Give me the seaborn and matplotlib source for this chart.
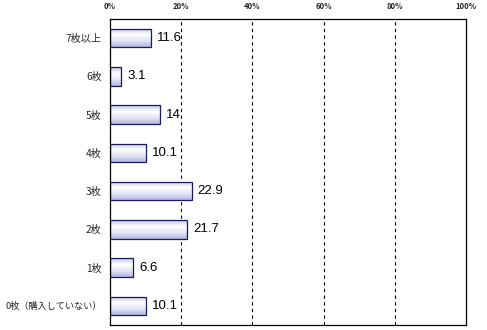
import numpy as np
import pandas as pd
import matplotlib
matplotlib.use("Agg")
import matplotlib.pyplot as plt
import seaborn as sns
from matplotlib.colors import LinearSegmentedColormap

categories = ["7枚以上", "6枚", "5枚", "4枚", "3枚", "2枚", "1枚", "0枚（購入していない）"]
values = [11.6, 3.1, 14, 10.1, 22.9, 21.7, 6.6, 10.1]
value_labels = ["11.6", "3.1", "14", "10.1", "22.9", "21.7", "6.6", "10.1"]
tick_values = [0, 20, 40, 60, 80, 100]
tick_labels = ["0%", "20%", "40%", "60%", "80%", "100%"]

sns.set_theme(style="white")
plt.rcParams['font.family'] = ['Noto Sans CJK JP', 'DejaVu Sans']

df = pd.DataFrame({"cat": categories, "val": values})

fig = plt.figure(figsize=(4.87, 3.30), dpi=100)
ax = fig.add_axes([110/487, 5/330, 356/487, 306/330])

sns.barplot(data=df, x="val", y="cat", orient="h", ax=ax, width=0.49,
            color="white", edgecolor="#1a1a5a", linewidth=0.9, saturation=1)

cmap = LinearSegmentedColormap.from_list("g", ["#c4c4ec", "#ffffff", "#e4e4f6", "#b4b4e4"])
grad = np.linspace(0, 1, 64).reshape(-1, 1)
for p in ax.patches:
    x0, y0 = p.get_x(), p.get_y()
    w, h = p.get_width(), p.get_height()
    im = ax.imshow(grad, cmap=cmap, aspect="auto", extent=[x0, x0 + w, y0 + h, y0],
                   origin="upper", zorder=p.get_zorder() + 0.1)
    im.set_clip_path(p)
    p.set_facecolor("none")
    p.set_zorder(p.get_zorder() + 0.2)

for i, (v, lab) in enumerate(zip(values, value_labels)):
    ax.text(v + 1.7, i, lab, va="center", ha="left", fontsize=9.5, color="black",
            family=['Liberation Sans', 'DejaVu Sans'])

ax.set_xlim(0, 100)
ax.set_ylim(len(categories) - 0.5, -0.5)
for t in tick_values[1:-1]:
    ax.axvline(t, color="black", linestyle=(0, (3, 3)), linewidth=0.8, zorder=0)

ax.xaxis.tick_top()
ax.set_xticks(tick_values)
ax.set_xticklabels(tick_labels, fontsize=5.5, fontweight="bold")
ax.tick_params(axis="x", length=0, pad=6)
ax.tick_params(axis="y", length=0, pad=6, labelsize=7.3)
for lbl in ax.get_yticklabels():
    if len(lbl.get_text()) > 6:
        lbl.set_fontsize(6.6)
ax.set_xlabel("")
ax.set_ylabel("")
for s in ax.spines.values():
    s.set_visible(True)
    s.set_color("black")
    s.set_linewidth(0.9)

fig.savefig("out.png", dpi=100, facecolor="white")
